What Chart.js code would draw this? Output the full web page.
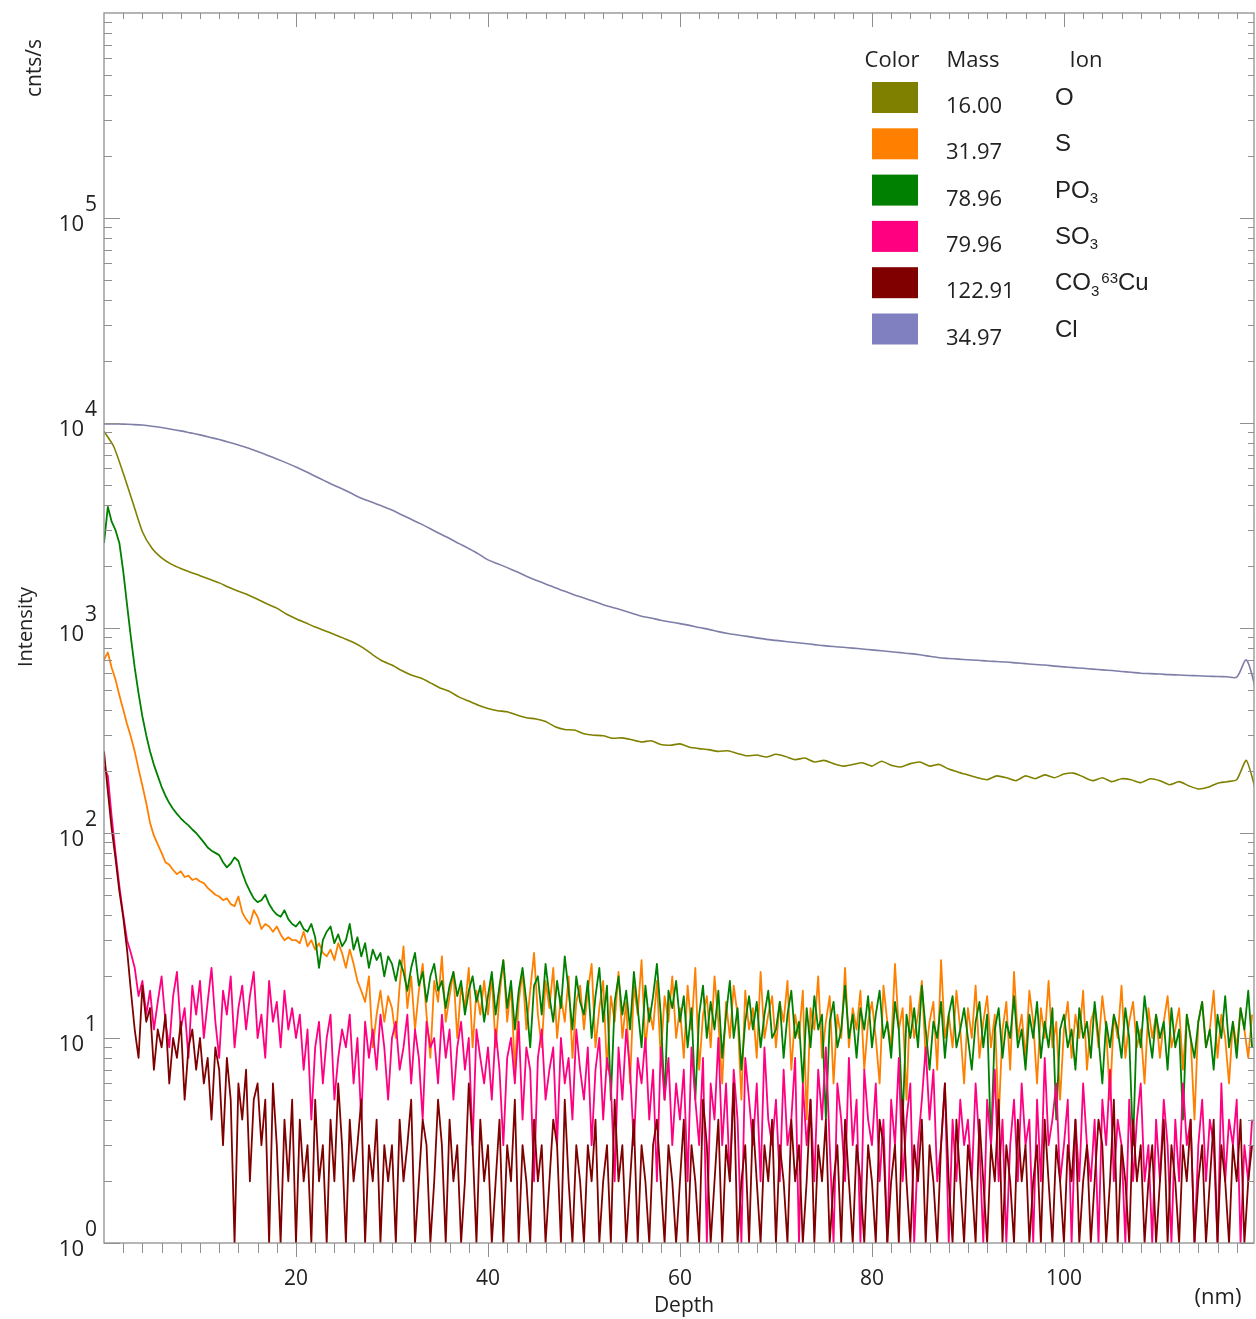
<!DOCTYPE html>
<html>
<head>
<meta charset="utf-8">
<title>Depth profile</title>
<script src="https://cdn.jsdelivr.net/npm/chart.js@4.4.1/dist/chart.umd.min.js"></script>
<style>
  html, body { margin: 0; padding: 0; background: #fff; overflow: hidden; }
  canvas { display: block; }
</style>
</head>
<body>
<canvas id="depthChart" width="1256" height="1319"></canvas>
<script>
// Depth sampling (nm): noisy signals every 0.4 nm, smooth signals every 1 nm
const depthStepFine = 0.4
const depthStepCoarse = 1

// Axis ticks
const yTickExponents = [0, 1, 2, 3, 4, 5]
const xTickLabels = [20, 40, 60, 80, 100]

// Legend table
const legendColors = ["#808000", "#ff8000", "#008000", "#ff0080", "#800000", "#8080c0"]
const legendMass = ["16.00", "31.97", "78.96", "79.96", "122.91", "34.97"]
const legendIons = [
  [{ t: "O" }],
  [{ t: "S" }],
  [{ t: "PO" }, { t: "3", sub: true }],
  [{ t: "SO" }, { t: "3", sub: true }],
  [{ t: "CO" }, { t: "3", sub: true }, { t: "63", sup: true }, { t: "Cu" }],
  [{ t: "Cl" }],
]

// 34.97 Cl (1 nm steps, 0..120)
const clValues = [
  9900, 9890, 9870, 9830, 9770, 9650, 9500, 9330, 9150, 8950,
  8750, 8530, 8300, 8060, 7810, 7550, 7260, 6970, 6680, 6390,
  6100, 5800, 5500, 5220, 4960, 4730, 4480, 4260, 4090, 3930,
  3760, 3570, 3390, 3220, 3050, 2880, 2730, 2580, 2440, 2300,
  2150, 2060, 1970, 1880, 1790, 1710, 1640, 1570, 1510, 1450,
  1400, 1350, 1300, 1260, 1220, 1180, 1140, 1120, 1090, 1070,
  1050, 1030, 1005, 985, 960, 940, 925, 910, 895, 880,
  870, 860, 850, 840, 830, 820, 812, 805, 798, 790,
  782, 774, 766, 758, 750, 740, 728, 716, 710, 705,
  700, 696, 690, 686, 682, 676, 670, 664, 660, 652,
  646, 641, 636, 630, 625, 620, 614, 608, 602, 599,
  596, 592, 590, 587, 585, 582, 580, 578, 576, 698,
  500,
]

// 16.00 O (1 nm steps, 0..120)
const oValues = [
  9100, 7700, 5700, 4100, 2950, 2450, 2200, 2050, 1950, 1870,
  1800, 1730, 1660, 1580, 1510, 1450, 1380, 1310, 1250, 1170,
  1110, 1060, 1010, 970, 930, 890, 850, 800, 740, 690,
  660, 620, 590, 570, 540, 510, 490, 460, 440, 420,
  405, 395, 390, 376, 365, 360, 350, 330, 320, 318,
  305, 300, 298, 290, 291, 285, 278, 282, 270, 268,
  272, 262, 258, 255, 250, 252, 244, 238, 240, 235,
  242, 236, 228, 232, 222, 226, 218, 212, 216, 220,
  212, 224, 214, 210, 218, 222, 212, 216, 205, 198,
  192, 186, 182, 190, 186, 180, 190, 184, 192, 186,
  194, 196, 188, 180, 186, 178, 184, 182, 176, 184,
  180, 172, 178, 170, 164, 167, 175, 178, 182, 226,
  160,
]

// 78.96 PO3 (0.4 nm steps, 0..119.6)
const po3Values = [
  2600, 3900, 3300, 3000, 2600, 1900, 1300, 900, 640, 480, 370, 300, 250, 215, 190, 168, 152, 140, 131, 124, 118, 113, 109, 104, 100,
  95, 90, 85, 82, 80, 78, 72, 68, 71, 76, 73, 64, 57, 52, 48, 46, 47, 50, 45, 42, 40, 39, 42, 38, 36,
  35, 37, 34, 33, 36, 31, 22, 30, 33, 35, 29, 32, 28, 30, 36, 27, 31, 25, 29, 22, 27, 24, 26, 20, 25,
  23, 19, 24, 21, 17, 22, 26, 18, 21, 15, 20, 23, 17, 19, 14, 18, 21, 16, 19, 13, 17, 20, 15, 18, 12,
  16, 21, 13, 18, 24, 14, 19, 11, 17, 22, 15, 9, 18, 20, 13, 23, 16, 12, 19, 14, 25, 17, 11, 20, 15,
  13, 19, 10, 16, 22, 12, 18, 5, 15, 20, 13, 17, 11, 21, 14, 9, 18, 12, 16, 23, 13, 5, 17, 14, 19,
  12, 16, 9, 14, 5, 13, 18, 10, 15, 11, 17, 8, 13, 19, 10, 14, 7, 12, 16, 11, 15, 9, 13, 17, 10,
  11, 15, 8, 13, 17, 10, 12, 6, 14, 9, 16, 11, 13, 4, 12, 15, 9, 11, 18, 10, 13, 8, 14, 11, 16,
  9, 13, 17, 10, 12, 8, 15, 11, 4, 13, 10, 14, 9, 18, 11, 7, 12, 10, 15, 8, 13, 16, 9, 11, 14,
  10, 7, 12, 15, 9, 13, 3, 11, 14, 8, 12, 10, 16, 9, 11, 7, 13, 10, 15, 8, 12, 9, 14, 4, 11,
  13, 9, 11, 7, 14, 10, 12, 8, 15, 10, 6, 12, 9, 13, 11, 8, 14, 10, 3, 12, 9, 16, 11, 8, 13,
  10, 12, 7, 14, 9, 11, 4, 13, 10, 8, 12, 15, 9, 11, 7, 13, 10, 16, 9, 12, 8, 14, 11, 17, 9,
]

// 31.97 S (0.4 nm steps)
const sValues = [
  700, 760, 640, 560, 470, 400, 340, 295, 250, 205, 170, 140, 112, 97, 88, 80, 72, 70, 66, 63, 65, 61, 62, 59, 60,
  58, 57, 54, 52, 50, 49, 47, 48, 45, 44, 49, 41, 38, 36, 42, 39, 34, 36, 35, 33, 35, 32, 30, 31, 30,
  30, 29, 33, 28, 30, 27, 29, 26, 25, 27, 24, 29, 26, 22, 27, 23, 19, 17, 15, 20, 9, 13, 17, 12, 16,
  14, 10, 18, 28, 14, 20, 11, 17, 23, 13, 8, 19, 15, 25, 12, 16, 21, 10, 18, 14, 22, 9, 17, 13, 19,
  13, 20, 9, 16, 24, 12, 18, 7, 15, 21, 11, 17, 26, 13, 9, 19, 14, 22, 10, 16, 12, 20, 8, 15, 18,
  11, 17, 23, 9, 14, 19, 7, 16, 12, 21, 10, 15, 6, 18, 13, 24, 9, 14, 11, 19, 8, 16, 12, 20, 10,
  14, 8, 18, 11, 22, 7, 13, 16, 9, 20, 12, 6, 15, 10, 18, 13, 5, 17, 11, 14, 8, 21, 10, 13, 16,
  9, 15, 12, 19, 7, 13, 10, 17, 4, 14, 11, 20, 8, 12, 16, 6, 13, 10, 22, 9, 14, 11, 17, 7, 12,
  15, 10, 6, 18, 12, 9, 23, 11, 14, 5, 16, 10, 13, 19, 8, 12, 15, 7, 24, 10, 13, 9, 17, 11, 6,
  14, 10, 18, 8, 12, 16, 9, 13, 4, 11, 15, 7, 21, 10, 13, 8, 17, 12, 6, 14, 10, 19, 9, 12, 5,
  11, 15, 8, 13, 10, 17, 7, 12, 14, 9, 16, 11, 5, 13, 10, 18, 8, 12, 15, 9, 11, 6, 14, 10, 13,
  8, 12, 16, 9, 11, 14, 7, 13, 10, 4, 12, 15, 9, 11, 17, 8, 13, 10, 6, 12, 9, 14, 11, 8, 13,
]

// 79.96 SO3 (0.4 nm steps)
const so3Values = [
  210, 190, 120, 80, 55, 40, 30, 26, 22, 16, 19, 13, 17, 11, 15, 20, 12, 9, 16, 21, 11, 14, 8, 18, 13,
  19, 10, 15, 22, 12, 8, 17, 13, 20, 9, 14, 18, 11, 16, 21, 10, 13, 8, 19, 12, 15, 9, 17, 11, 14,
  10, 13, 7, 11, 4, 9, 12, 6, 10, 13, 5, 8, 11, 9, 13, 6, 10, 4, 12, 8, 11, 7, 13, 9, 5,
  10, 12, 7, 9, 13, 6, 11, 8, 4, 12, 9, 10, 6, 13, 8, 11, 5, 9, 12, 7, 10, 3, 11, 8, 6,
  9, 5, 11, 7, 3, 8, 10, 6, 12, 4, 9, 7, 2, 8, 11, 5, 7, 9, 3, 10, 6, 8, 4, 11, 7,
  5, 9, 3, 7, 10, 4, 8, 6, 2, 9, 5, 11, 7, 3, 8, 6, 10, 4, 7, 2, 9, 5, 8, 3, 6,
  4, 7, 2, 9, 5, 3, 8, 1, 6, 4, 10, 3, 6, 2, 7, 4, 1, 8, 5, 3, 6, 2, 9, 4, 3,
  5, 2, 7, 3, 4, 8, 1, 6, 3, 5, 2, 7, 4, 9, 3, 1, 6, 4, 2, 8, 3, 5, 1, 7, 4,
  3, 6, 2, 4, 1, 5, 3, 8, 2, 4, 6, 1, 3, 5, 9, 4, 7, 2, 3, 6, 1, 4, 2, 5, 3,
  4, 2, 6, 3, 1, 5, 3, 7, 2, 4, 1, 3, 5, 2, 6, 3, 4, 1, 5, 2, 8, 3, 4, 6, 2,
  3, 5, 1, 4, 2, 6, 3, 2, 4, 1, 5, 3, 7, 2, 4, 3, 1, 5, 2, 4, 6, 2, 3, 1, 4,
  2, 5, 3, 1, 4, 2, 6, 3, 4, 1, 3, 5, 2, 4, 3, 1, 6, 2, 4, 3, 5, 1, 3, 2, 4,
]

// 122.91 CO3 63Cu (0.4 nm steps)
const co3cuValues = [
  250, 160, 105, 75, 52, 39, 27, 17, 11, 8, 18, 12, 14, 7, 11, 9, 13, 6, 10, 8, 12, 5, 9, 11, 7,
  10, 6, 8, 4, 9, 7, 3, 8, 5, 1, 6, 4, 7, 2, 5, 6, 3, 5, 1, 6, 3, 1, 4, 2, 5,
  1, 4, 2, 3, 1, 5, 2, 3, 1, 4, 2, 6, 3, 1, 4, 2, 3, 5, 1, 3, 2, 4, 1, 3, 2,
  3, 1, 4, 2, 3, 5, 1, 2, 4, 3, 1, 2, 5, 3, 1, 4, 2, 3, 1, 2, 6, 3, 1, 4, 2,
  3, 1, 2, 4, 1, 3, 2, 5, 1, 3, 2, 1, 4, 2, 3, 1, 2, 4, 3, 1, 5, 2, 1, 3, 2,
  1, 3, 2, 4, 1, 2, 3, 1, 5, 2, 3, 1, 2, 4, 1, 3, 2, 1, 3, 4, 2, 1, 3, 2, 1,
  2, 4, 1, 3, 2, 1, 5, 3, 1, 2, 4, 1, 3, 2, 6, 1, 2, 3, 1, 4, 2, 1, 3, 2, 4,
  1, 3, 2, 1, 4, 2, 3, 1, 2, 5, 1, 3, 2, 4, 1, 2, 3, 1, 4, 2, 1, 3, 2, 1, 3,
  2, 1, 4, 3, 1, 2, 3, 1, 5, 2, 1, 3, 2, 4, 1, 3, 2, 1, 3, 6, 2, 1, 4, 2, 1,
  3, 2, 1, 4, 2, 1, 3, 2, 5, 1, 3, 2, 1, 4, 2, 3, 1, 2, 3, 1, 4, 2, 1, 3, 2,
  1, 3, 2, 4, 1, 2, 3, 1, 2, 4, 3, 1, 2, 5, 1, 3, 2, 1, 4, 2, 3, 1, 2, 3, 1,
  2, 4, 1, 3, 2, 1, 3, 2, 4, 1, 2, 3, 1, 2, 4, 1, 3, 2, 1, 3, 2, 4, 1, 2, 3,
]

const TEXT_COLOR = "#222"
const AXIS_COLOR = "#8f8f8f"
const LABEL_FONT = '"Open Sans", "Noto Sans", sans-serif'
const ION_FONT = '"Liberation Sans", Arial, sans-serif'

// pair values with depth (x) values
const toPoints = (values, step) => values.map((v, i) => ({ x: +(i * step).toFixed(1), y: v }))

function lineDataset(label, values, step, color, extra) {
  return Object.assign({
    label: label,
    data: toPoints(values, step),
    borderColor: color,
    backgroundColor: color,
    borderWidth: 1.8,
    pointRadius: 0,
    borderJoinStyle: "round",
    tension: 0,
  }, extra || {})
}

// draws "10" with a raised exponent
function drawPower(ctx, exponent, py) {
  ctx.fillStyle = TEXT_COLOR
  ctx.font = "22px " + LABEL_FONT
  ctx.textAlign = "right"
  ctx.fillText("10", 84, py + 13)
  ctx.font = "21px " + LABEL_FONT
  ctx.textAlign = "left"
  ctx.fillText(String(exponent), 85, py - 7)
}

function drawIon(ctx, segments, x, baseline) {
  let cx = x
  ctx.textAlign = "left"
  segments.forEach((seg) => {
    let dy = 0
    if (seg.sub) {
      ctx.font = "15px " + ION_FONT
      dy = 5.5
    } else if (seg.sup) {
      ctx.font = "15px " + ION_FONT
      dy = -7
      cx += 2
    } else {
      ctx.font = "24px " + ION_FONT
    }
    ctx.fillText(seg.t, cx, baseline + dy)
    cx += ctx.measureText(seg.t).width
  })
}

// frame, ticks, labels and legend table
const decorations = {
  id: "decorations",
  afterDraw(chart) {
    const { ctx, chartArea: a, scales } = chart
    const x = scales.x
    const y = scales.y
    ctx.save()

    // frame
    ctx.strokeStyle = AXIS_COLOR
    ctx.lineWidth = 1.3
    ctx.strokeRect(a.left, a.top, a.right - a.left, a.bottom - a.top)

    // log ticks on left and right
    ctx.lineWidth = 1
    ctx.beginPath()
    yTickExponents.forEach((e) => {
      for (let k = 1; k <= 9; k++) {
        const py = Math.round(y.getPixelForValue(k * Math.pow(10, e))) + 0.5
        const major = k === 1
        ctx.moveTo(a.left, py)
        ctx.lineTo(a.left + (major ? 16 : 8), py)
        ctx.moveTo(a.right, py)
        ctx.lineTo(a.right - (major ? 14 : 6), py)
      }
    })
    // depth ticks on bottom (outside) and top (inside)
    for (let t = 2; t < x.max; t += 2) {
      const px = Math.round(x.getPixelForValue(t)) + 0.5
      const major = t % 20 === 0
      ctx.moveTo(px, a.bottom)
      ctx.lineTo(px, a.bottom + (major ? 14 : 10))
      ctx.moveTo(px, a.top)
      ctx.lineTo(px, a.top + (major ? 14 : 6))
    }
    ctx.stroke()

    // tick labels
    yTickExponents.forEach((e) => drawPower(ctx, e, y.getPixelForValue(Math.pow(10, e))))
    ctx.fillStyle = TEXT_COLOR
    ctx.font = "21px " + LABEL_FONT
    ctx.textAlign = "center"
    xTickLabels.forEach((v) => ctx.fillText(String(v), x.getPixelForValue(v), a.bottom + 42))

    // axis titles
    ctx.fillText("Depth", (a.left + a.right) / 2 + 5, 1312)
    ctx.font = "22px " + LABEL_FONT
    ctx.fillText("(nm)", 1218, 1304)
    ctx.font = "20px " + LABEL_FONT
    ctx.save()
    ctx.translate(32, 627)
    ctx.rotate(-Math.PI / 2)
    ctx.fillText("Intensity", 0, 0)
    ctx.restore()
    ctx.save()
    ctx.translate(41, 68)
    ctx.rotate(-Math.PI / 2)
    ctx.font = "21px " + LABEL_FONT
    ctx.fillText("cnts/s", 0, 0)
    ctx.restore()

    // legend table
    ctx.font = "22px " + LABEL_FONT
    ctx.textAlign = "center"
    ctx.fillText("Color", 892, 67)
    ctx.fillText("Mass", 973, 67)
    ctx.fillText("Ion", 1086, 67)
    legendColors.forEach((c, i) => {
      const top = 82 + i * 46.3
      ctx.fillStyle = c
      ctx.fillRect(872, top, 46, 31)
      ctx.fillStyle = TEXT_COLOR
      ctx.font = "22px " + LABEL_FONT
      ctx.textAlign = "left"
      ctx.fillText(legendMass[i], 946, top + 31)
      drawIon(ctx, legendIons[i], 1055, top + 23)
    })

    ctx.restore()
  },
}

// first dataset is drawn on top
const datasets = [
  lineDataset("34.97 Cl", clValues, depthStepCoarse, "#7e7ea8", { tension: 0.3, borderWidth: 1.6 }),
  lineDataset("122.91 CO3 63Cu", co3cuValues, depthStepFine, "#800000"),
  lineDataset("79.96 SO3", so3Values, depthStepFine, "#ff0080"),
  lineDataset("78.96 PO3", po3Values, depthStepFine, "#008000"),
  lineDataset("31.97 S", sValues, depthStepFine, "#ff8000"),
  lineDataset("16.00 O", oValues, depthStepCoarse, "#808000", { tension: 0.2, borderWidth: 1.6 }),
]

new Chart(document.getElementById("depthChart"), {
  type: "line",
  data: { datasets: datasets },
  options: {
    responsive: false,
    animation: false,
    layout: { padding: { left: 104, right: 2, top: 13, bottom: 76 } },
    plugins: {
      legend: { display: false },
      tooltip: { enabled: false },
    },
    scales: {
      x: { type: "linear", min: 0, max: 119.8, display: false },
      y: { type: "logarithmic", min: 1, max: 1e6, display: false },
    },
  },
  plugins: [decorations],
})
</script>
</body>
</html>
